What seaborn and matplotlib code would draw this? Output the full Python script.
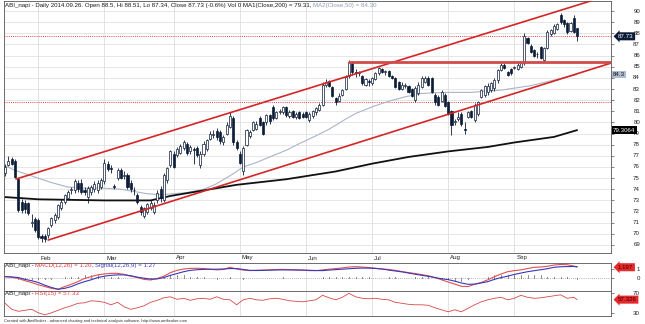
import numpy as np
import matplotlib
matplotlib.use("Agg")
import matplotlib.pyplot as plt
import matplotlib.transforms as mtransforms
import seaborn as sns

# ---------------- data ----------------
opens = [75.5, 76.2, 76.7, 76.5, 74.9, 72.9, 72.8, 72.8, 71.0, 71.3,
         71.2, 69.8, 69.8, 69.9, 70.8, 71.2, 71.5, 72.3, 72.9, 73.2,
         73.9, 73.9, 74.6, 74.6, 73.9, 73.3, 73.8, 74.0, 73.9, 74.2,
         74.7, 76.3, 75.9, 74.3, 75.0, 75.7, 75.2, 75.3, 74.6, 73.9,
         73.5, 72.4, 71.6, 72.0, 72.3, 72.0, 73.0, 74.0, 73.0, 74.8,
         76.2, 77.2, 77.1, 77.3, 77.7, 78.1, 77.4, 77.6, 77.7, 76.2,
         77.2, 77.6, 78.5, 78.9, 79.2, 79.1, 78.2, 79.0, 79.6, 80.4,
         78.2, 77.2, 75.6, 78.0, 78.8, 79.3, 79.4, 80.4, 80.0, 80.0,
         80.7, 81.4, 80.4, 80.9, 80.9, 81.4, 80.6, 81.0, 80.5, 80.9,
         80.8, 80.9, 80.2, 80.6, 80.9, 81.1, 81.6, 83.4, 83.7, 83.2,
         82.2, 81.9, 82.5, 83.0, 84.2, 85.3, 84.5, 84.4, 84.2, 83.4,
         83.7, 83.5, 83.9, 84.4, 84.8, 84.5, 84.6, 84.2, 84.0, 83.6,
         83.0, 83.3, 83.3, 83.0, 82.0, 82.6, 83.2, 83.6, 84.0, 84.0,
         82.5, 82.3, 81.9, 82.5, 81.8, 81.0, 80.0, 80.3, 80.8, 79.4,
         80.5, 81.0, 80.2, 80.8, 82.3, 82.5, 82.7, 82.9, 83.1, 83.8,
         84.7, 85.2, 84.5, 84.8, 84.9, 84.8, 85.0, 85.3, 87.6, 86.9,
         86.5, 86.1, 86.8, 85.6, 86.7, 87.9, 88.0, 88.4, 89.6, 89.2,
         88.9, 88.2, 89.4, 88.5]
highs = [76.3, 77.0, 76.9, 76.7, 75.0, 73.1, 73.0, 72.9, 71.8, 71.5,
         71.4, 70.0, 70.0, 70.6, 71.5, 71.9, 72.7, 73.1, 73.6, 73.9,
         74.2, 74.9, 74.8, 74.9, 74.2, 74.3, 74.4, 74.7, 74.8, 75.0,
         76.7, 76.5, 76.2, 74.5, 75.9, 75.9, 75.6, 75.5, 74.8, 74.2,
         73.7, 72.6, 72.4, 72.8, 73.0, 72.9, 73.9, 74.3, 75.5, 76.0,
         77.5, 77.4, 77.8, 78.1, 78.4, 78.2, 78.0, 77.8, 77.9, 77.4,
         78.3, 78.5, 79.2, 79.3, 79.5, 79.3, 78.9, 80.0, 80.9, 80.6,
         78.4, 77.4, 77.9, 79.4, 79.3, 80.1, 80.1, 80.6, 80.1, 80.8,
         80.8, 81.6, 81.0, 81.2, 81.5, 81.5, 81.1, 81.1, 80.9, 81.0,
         80.9, 81.0, 80.9, 81.1, 81.4, 81.7, 83.6, 83.9, 83.8, 83.3,
         82.3, 82.6, 83.0, 84.3, 85.6, 85.5, 84.8, 84.6, 84.3, 84.0,
         83.9, 84.1, 84.5, 85.0, 84.9, 84.7, 84.7, 84.3, 84.1, 83.7,
         83.6, 83.5, 83.4, 83.1, 83.3, 83.6, 84.2, 84.2, 84.2, 84.1,
         82.6, 82.5, 82.9, 82.6, 81.9, 81.1, 80.3, 80.9, 80.9, 80.0,
         81.0, 81.1, 81.7, 81.9, 83.0, 83.4, 83.5, 83.6, 84.0, 84.8,
         85.3, 85.3, 84.6, 84.9, 85.1, 85.3, 85.5, 88.0, 87.7, 87.0,
         86.6, 86.3, 86.9, 86.8, 88.3, 88.4, 88.8, 88.9, 89.8, 89.3,
         89.0, 89.0, 89.6, 88.51]
lows = [75.2, 76.1, 76.2, 75.0, 72.0, 71.9, 71.9, 71.7, 70.6, 70.2,
        69.5, 69.3, 69.3, 69.6, 70.6, 71.0, 71.3, 72.1, 72.7, 73.0,
        73.6, 73.7, 73.8, 73.6, 73.5, 72.8, 73.5, 73.8, 73.7, 74.0,
        74.5, 75.6, 75.5, 74.0, 74.8, 74.9, 74.9, 74.0, 73.8, 73.5,
        72.7, 71.7, 71.4, 71.8, 72.1, 71.8, 72.8, 72.9, 72.9, 74.6,
        76.0, 75.9, 76.9, 77.2, 77.5, 77.1, 77.2, 76.3, 76.9, 75.9,
        77.0, 77.4, 78.4, 78.6, 78.4, 78.1, 78.0, 78.9, 79.5, 78.0,
        77.5, 76.3, 75.3, 77.9, 78.6, 79.2, 79.3, 79.7, 78.9, 79.8,
        79.9, 80.2, 80.3, 80.8, 80.8, 80.5, 80.4, 80.4, 80.3, 80.3,
        80.4, 80.4, 80.0, 80.4, 80.7, 81.0, 81.5, 83.2, 83.2, 82.3,
        81.6, 81.8, 82.4, 82.9, 84.0, 84.3, 84.1, 84.2, 83.4, 83.3,
        83.3, 83.4, 83.8, 84.3, 84.4, 84.3, 84.1, 83.9, 83.1, 82.9,
        82.9, 83.1, 82.6, 82.3, 81.8, 82.5, 83.1, 83.5, 83.3, 82.6,
        81.6, 81.5, 81.8, 81.4, 80.7, 78.9, 79.8, 80.1, 79.7, 79.0,
        80.4, 80.4, 80.0, 80.6, 82.2, 82.3, 82.5, 82.7, 82.8, 83.5,
        84.6, 84.8, 84.2, 84.3, 84.8, 84.7, 84.9, 85.2, 87.0, 86.2,
        85.9, 85.8, 85.7, 85.5, 86.6, 87.8, 87.9, 88.3, 88.8, 88.6,
        87.9, 88.1, 88.0, 87.34]
closes = [76.0, 76.5, 76.3, 75.1, 72.1, 72.1, 72.2, 71.9, 71.0, 70.3,
          69.7, 69.6, 69.5, 70.5, 71.4, 71.7, 72.6, 72.9, 73.5, 73.8,
          74.0, 74.7, 74.0, 73.8, 73.8, 74.1, 74.2, 74.5, 74.6, 74.8,
          76.4, 75.8, 75.8, 74.2, 75.7, 75.0, 75.3, 74.2, 74.0, 73.9,
          72.9, 72.0, 72.3, 72.7, 72.8, 72.6, 73.7, 73.2, 75.3, 75.9,
          77.4, 76.0, 77.6, 77.9, 78.2, 77.3, 77.8, 77.5, 77.1, 77.2,
          78.1, 78.4, 79.0, 79.0, 78.7, 78.3, 78.7, 79.8, 80.6, 78.2,
          77.7, 76.4, 77.7, 79.3, 79.1, 80.0, 79.9, 79.8, 79.0, 80.7,
          80.1, 80.4, 80.9, 81.0, 81.4, 80.7, 80.9, 80.5, 80.8, 80.4,
          80.5, 80.5, 80.8, 81.0, 81.3, 81.6, 83.4, 83.6, 83.3, 82.4,
          81.8, 82.4, 82.9, 84.1, 85.4, 84.5, 84.4, 84.5, 83.5, 83.9,
          83.6, 84.0, 84.4, 84.9, 84.5, 84.6, 84.2, 84.0, 83.2, 83.0,
          83.4, 83.3, 82.7, 82.4, 83.1, 83.4, 84.0, 84.0, 83.4, 82.7,
          81.8, 81.6, 82.7, 81.5, 80.8, 79.8, 80.1, 80.5, 79.9, 79.3,
          80.9, 80.5, 81.6, 81.8, 82.9, 83.3, 83.3, 83.5, 83.8, 84.7,
          85.2, 84.9, 84.3, 84.4, 85.0, 85.2, 85.4, 87.8, 87.1, 86.3,
          86.0, 86.1, 85.8, 86.7, 88.1, 88.3, 88.7, 88.8, 89.0, 88.8,
          88.1, 88.9, 88.1, 87.73]

month_labels = ["Feb", "Mar", "Apr", "May", "Jun", "Jul", "Aug", "Sep"]
month_idx = [10, 30, 51, 71, 91, 111, 134, 154]

ma200_idx = [0, 10, 30, 44, 50, 56, 70, 85, 100, 111, 122, 134, 146, 154, 166, 173]
ma200_val = [73.3, 73.1, 73.0, 73.0, 73.4, 73.7, 74.4, 74.9, 75.6, 76.3, 76.9, 77.4, 77.8, 78.2, 78.7, 79.31]

ma50_idx = [0, 3, 8, 14, 19, 24, 30, 35, 39, 43, 47, 51, 55, 60, 64, 69, 72, 76,
            80, 85, 89, 94, 98, 103, 106, 111, 116, 121, 126, 133, 141, 150, 159, 166, 173]
ma50_val = [76.1, 75.7, 75.2, 74.6, 74.2, 74.1, 74.1, 74.0, 73.8, 73.6, 73.5, 73.6, 73.7, 74.0, 74.5, 75.4, 76.0, 76.4,
            76.9, 77.5, 78.1, 78.8, 79.4, 80.3, 80.8, 81.4, 81.9, 82.3, 82.6, 82.7, 82.7, 82.9, 83.3, 83.8, 84.30]

ind_idx = list(range(0, 173, 2)) + [173]
macd_vals = [0.15, 0.08, -0.05, -0.3, -0.5, -0.75, -0.95, -1.15, -1.25, -0.95,
             -0.7, -0.4, -0.05, 0.15, 0.35, 0.45, 0.52, 0.52, 0.4, 0.2,
             0.05, -0.15, -0.22, -0.05, 0.2, 0.6, 0.85, 1.0, 1.07, 1.08,
             1.05, 0.98, 0.9, 0.95, 1.19, 1.0, 0.88, 0.82, 0.86, 0.88,
             0.9, 0.94, 0.96, 0.93, 0.9, 0.87, 0.82, 0.82, 0.9, 0.98,
             1.05, 1.12, 1.22, 1.26, 1.22, 1.16, 1.08, 1.0, 0.95, 0.85,
             0.72, 0.6, 0.5, 0.38, 0.25, 0.05, -0.2, -0.45, -0.68, -0.92,
             -0.95, -0.7, -0.5, -0.2, 0.15, 0.45, 0.7, 0.82, 0.9, 1.05,
             1.19, 1.22, 1.3, 1.44, 1.5, 1.48, 1.32, 1.20]
signal_vals = [0.15, 0.12, 0.05, -0.15, -0.3, -0.5, -0.8, -1.05, -1.25, -1.15,
               -0.95, -0.65, -0.4, -0.2, 0.05, 0.2, 0.3, 0.35, 0.35, 0.25,
               0.1, -0.02, -0.12, -0.1, 0.05, 0.3, 0.5, 0.7, 0.85, 0.92,
               0.96, 0.97, 0.98, 1.0, 1.05, 1.05, 0.95, 0.85, 0.83, 0.85,
               0.87, 0.89, 0.9, 0.9, 0.89, 0.88, 0.86, 0.83, 0.82, 0.88,
               0.93, 0.98, 1.03, 1.08, 1.1, 1.1, 1.06, 1.0, 0.88, 0.78,
               0.68, 0.55, 0.42, 0.3, 0.18, 0.05, -0.08, -0.18, -0.35, -0.55,
               -0.7, -0.68, -0.55, -0.4, -0.15, 0.05, 0.2, 0.4, 0.55, 0.7,
               0.81, 0.92, 1.03, 1.19, 1.25, 1.27, 1.28, 1.27]
rsi_vals = [50, 38, 34, 36, 38, 31, 27, 31, 36, 41,
            45, 50, 51, 55, 54, 52, 47, 52, 43, 38,
            41, 45, 52, 56, 61, 63, 58, 60, 56, 59,
            60, 58, 63, 58, 57, 47, 57, 60, 57, 56,
            59, 60, 58, 55, 54, 53, 55, 57, 66, 61,
            57, 62, 70, 63, 60, 59, 60, 58, 57, 52,
            50, 48, 47, 47, 46, 41, 37, 33, 37, 33,
            40, 47, 53, 57, 60, 62, 57, 60, 66, 62,
            60, 61, 63, 65, 67, 60, 62, 57.33]

upper_ch_idx = [3.3, 183.6]
upper_ch_val = [74.92, 91.5]
lower_ch_idx = [13.0, 183.6]
lower_ch_val = [69.44, 85.36]
resist_idx = [104, 183.6]
resist_val = [85.42, 85.42]
dotted_levels = [87.73, 81.8]

price_ticks = list(range(69, 91))
title_parts = [("ABI_napi - Daily 2014.09.26. Open 88.5, Hi 88.51, Lo 87.34, Close 87.73 (-0.6%) Vol 0 MA1(Close,200) = 79.31, ", "#1a1a1a"),
               ("MA2(Close,50) = 84.30", "#8d9db5")]
macd_title = [("ABI_napi - ", "#1a1a1a"), ("MACD(12,26) = 1.20", "#e03a3a"),
              (", ", "#1a1a1a"), ("Signal(12,26,9) = 1.27", "#3a40c0")]
rsi_title = [("ABI_napi - ", "#1a1a1a"), ("RSI(15) = 57.33", "#e03a3a")]
footer = "Created with AmiBroker - advanced charting and technical analysis software. http://www.amibroker.com"

# ---------------- styling ----------------
sns.set_theme(style="white")
plt.rcParams["font.family"] = ["Liberation Sans", "DejaVu Sans"]

W, H = 645, 324
fig = plt.figure(figsize=(W / 100, H / 100), dpi=100)


def rect(x0, y0, x1, y1):
    return [x0 / W, 1 - y1 / H, (x1 - x0) / W, (y1 - y0) / H]


ax = fig.add_axes(rect(4, 1, 611, 253))
axm = fig.add_axes(rect(4, 263, 611, 291))
axr = fig.add_axes(rect(4, 291, 611, 316))

XL = (-0.35, 183.25)
NAVY = "#0c1c38"
FS = 4.4

for a in (ax, axm, axr):
    a.set_xlim(*XL)
    a.set_facecolor("white")
    for s in a.spines.values():
        s.set_color("#555555")
        s.set_linewidth(0.6)
    a.set_xticks(month_idx)
    a.grid(axis="x", color="#dedede", linewidth=0.6)
    a.set_axisbelow(True)
    a.tick_params(axis="y", left=False, labelleft=False, right=True, labelright=False,
                  length=2, width=0.5, color="#555555", direction="out")

# main panel
ax.set_ylim(68.28, 90.90)
ax.set_yticks(price_ticks)
ax.grid(axis="y", color="#e2e2e2", linewidth=0.6)
ax.set_xticklabels([])
ax.tick_params(axis="x", direction="out", length=3, width=0.6, color="#444444", pad=0)
for a in (axm, axr):
    a.set_xticklabels([])
    a.tick_params(axis="x", length=0)

idx = np.arange(len(closes))
o = np.array(opens); c = np.array(closes); h = np.array(highs); l = np.array(lows)
up = c >= o
bottom = np.minimum(o, c)
height = np.maximum(np.abs(c - o), 0.07)

for lv in dotted_levels:
    ax.axhline(lv, color="#e04848", linewidth=0.7, linestyle=(0, (1, 1.2)), zorder=2)

sns.lineplot(x=ma50_idx, y=ma50_val, ax=ax, color="#aab5c6", linewidth=0.8, zorder=2)
sns.lineplot(x=ma200_idx, y=ma200_val, ax=ax, color="#111111", linewidth=1.3, zorder=2)

ax.vlines(idx, l, h, color=NAVY, linewidth=0.6, zorder=3)
ax.bar(idx[up], height[up], bottom=bottom[up], width=0.62, color="white",
       edgecolor=NAVY, linewidth=0.5, zorder=4)
ax.bar(idx[~up], height[~up], bottom=bottom[~up], width=0.62, color=NAVY,
       edgecolor=NAVY, linewidth=0.5, zorder=4)

sns.lineplot(x=upper_ch_idx, y=upper_ch_val, ax=ax, color="#d42626", linewidth=1.2, zorder=5)
sns.lineplot(x=lower_ch_idx, y=lower_ch_val, ax=ax, color="#d42626", linewidth=1.2, zorder=5)
sns.lineplot(x=resist_idx, y=resist_val, ax=ax, color="#d24a4a", linewidth=2.0, zorder=5)
ax.set_xlim(*XL)
ax.set_ylim(68.28, 90.90)
ax.set_xlabel(""); ax.set_ylabel("")

trans_main = mtransforms.blended_transform_factory(ax.transAxes, ax.transData)
xr = (640 - 4) / 607.0
for v in price_ticks:
    ax.text(xr, v, str(v), transform=trans_main, ha="right", va="center",
            fontsize=FS, color="#222222", clip_on=False)

# month labels (strip between main and MACD panels)
trans_m = mtransforms.blended_transform_factory(ax.transData, ax.transAxes)
for mi, ml in zip(month_idx, month_labels):
    ax.text(mi + 0.6, -5.0 / 252, ml, transform=trans_m, ha="left", va="center",
            fontsize=FS, color="#222222", clip_on=False)


def value_box(a, y, label, fc, tc, trans):
    a.text((618 - 4) / 607.0, y, label, transform=trans, ha="left", va="center",
           fontsize=FS, color=tc, clip_on=False, zorder=10,
           bbox=dict(boxstyle="larrow,pad=0.25", fc=fc, ec="none"))


value_box(ax, 87.73, "87.73", NAVY, "white", trans_main)
ax.text((613 - 4) / 607.0, 84.30, "84.3", transform=trans_main, ha="left", va="center",
        fontsize=FS, color="#1a1a1a", clip_on=False, zorder=10,
        bbox=dict(boxstyle="square,pad=0.2", fc="#aebbd0", ec="none"))
ax.text((613 - 4) / 607.0, 79.31, "79.3064", transform=trans_main, ha="left", va="center",
        fontsize=FS, color="white", clip_on=False, zorder=10,
        bbox=dict(boxstyle="square,pad=0.2", fc="#000000", ec="none"))

# MACD panel
axm.set_ylim(-1.444, 1.667)
axm.set_yticks([0, 1])
macd_a = np.array(macd_vals); sig_a = np.array(signal_vals)
axm.axhline(0, color="#777777", linewidth=0.5, linestyle=(0, (1, 2)), zorder=1)
axm.vlines(ind_idx, 0, macd_a - sig_a, colors="#222222", linewidth=0.7,
           linestyles=(0, (1, 1)), zorder=2)
sns.lineplot(x=ind_idx, y=macd_vals, ax=axm, color="#e05050", linewidth=0.8, zorder=3)
sns.lineplot(x=ind_idx, y=signal_vals, ax=axm, color="#3838b8", linewidth=0.8, zorder=3)
axm.set_xlim(*XL); axm.set_ylim(-1.444, 1.667)
axm.set_xlabel(""); axm.set_ylabel("")
trans_macd = mtransforms.blended_transform_factory(axm.transAxes, axm.transData)
for v in [0, 1]:
    axm.text(xr, v, str(v), transform=trans_macd, ha="right", va="center",
             fontsize=FS, color="#222222", clip_on=False)
value_box(axm, 1.197, "1.197", "#e42a2a", "#3a0000", trans_macd)

# RSI panel
axr.set_ylim(24.6, 74.6)
axr.set_yticks([30, 70])
sns.lineplot(x=ind_idx, y=rsi_vals, ax=axr, color="#d84848", linewidth=0.6, zorder=3)
axr.set_xlim(*XL); axr.set_ylim(24.6, 74.6)
axr.set_xlabel(""); axr.set_ylabel("")
trans_rsi = mtransforms.blended_transform_factory(axr.transAxes, axr.transData)
for v in [30, 70]:
    axr.text(xr, v, str(v), transform=trans_rsi, ha="right", va="center",
             fontsize=FS, color="#222222", clip_on=False)
value_box(axr, 57.33, "57.326", "#e42a2a", "#3a0000", trans_rsi)

# multi-coloured titles
renderer = fig.canvas.get_renderer()


def multi_text(x_px, y_px, parts, size):
    x = x_px
    for s, col in parts:
        t = fig.text(x / W, 1 - y_px / H, s, color=col, fontsize=size, ha="left", va="center")
        bb = t.get_window_extent(renderer=renderer)
        x = bb.x1


multi_text(5, 5, title_parts, FS)
multi_text(5, 266, macd_title, FS)
multi_text(5, 294, rsi_title, FS)
fig.text(4 / W, 1 - 321 / H, footer, fontsize=2.9, color="#333333", ha="left", va="center")

fig.savefig("out.png", dpi=100)
